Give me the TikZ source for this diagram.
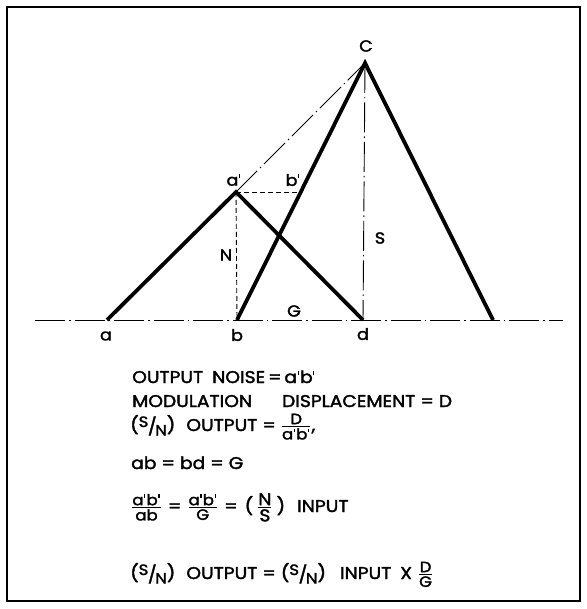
\documentclass[tikz,border=0pt]{standalone}
\usepackage{amsmath}
\usepackage{fontspec}
\setmainfont{Poppins}[FakeStretch=1.1, FakeBold=2]
\newcommand\pr{\kern0.6pt\rule[0.5em]{1.2pt}{0.22em}\kern1.2pt}
\newcommand\txtsize{\fontsize{17}{17}\selectfont}
\newcommand\frsize{\fontsize{15}{15}\selectfont}
\newcommand\SNratio{(\raisebox{4pt}{\fontsize{15}{15}\selectfont S}\kern-0.5pt\raisebox{-1.5pt}{/}\kern-1.5pt\raisebox{-4.5pt}{\fontsize{15}{15}\selectfont N})}
\newcommand\fr[2]{\ensuremath{\genfrac{}{}{1.1pt}{}{\hbox{\frsize #1}}{\hbox{\frsize #2}}}}
\newcommand\Fr[2]{\ensuremath{\genfrac{}{}{1.1pt}{}{\hbox{\txtsize #1}}{\hbox{\txtsize #2}}}}
\begin{document}
\begin{tikzpicture}[x=1pt,y=-1pt]
\tikzset{
 heavy/.style={line width=3.8pt, line join=miter},
 thinln/.style={line width=0.9pt},
 dashdot/.style={thinln, dash pattern=on 30pt off 4pt on 1.5pt off 4pt},
 shortdash/.style={thinln, dash pattern=on 5pt off 3pt},
 lab/.style={inner sep=0pt, font=\fontsize{16}{16}\selectfont},
 txt/.style={inner sep=0pt, anchor=base west, font=\txtsize},
}
\useasboundingbox (0,0) rectangle (586,609);
\draw[line width=2.5pt] (7,7) rectangle (580,601);
% points
\coordinate (L) at (35,320);
\coordinate (R) at (563,320);
\coordinate (a) at (107,320);
\coordinate (b) at (237,320);
\coordinate (d) at (363,320);
\coordinate (e) at (493,320);
\coordinate (ap) at (236,192);
\coordinate (bp) at (300,192);
\coordinate (C) at (365,63);
% construction lines
\draw[dashdot] (L) -- (R);
\draw[dashdot] (ap) -- (C);
\draw[dashdot] (C) -- (d);
\draw[shortdash] (ap) -- (b);
\draw[shortdash] (ap) -- (bp);
% heavy lines
\draw[heavy] (a) -- (ap) -- (d);
\draw[heavy] (b) -- (C) -- (e);
% labels
\node[lab] (la) at (106,336) {a};
\node[lab] (lb) at (237,335) {b};
\node[lab] (ld) at (363,334) {d};
\node[lab] (lC) at (366,46) {C};
\node[lab] (lap) at (234,180) {a\pr};
\node[lab] (lbp) at (293,180) {b\pr};
\node[lab] (lN) at (226,255) {N};
\node[lab] (lS) at (380,238) {S};
\node[lab] (lG) at (294,311) {G};
% text
\node[txt] (t1) at (132,383) {OUTPUT\hspace{9pt}NOISE\,=\,a\pr b\pr};
\node[txt] (t2) at (132,407) {MODULATION\hspace{30pt}DISPLACEMENT = D};
\node[txt] (t3) at (130,431) {\SNratio\hspace{11pt}OUTPUT = \fr{D}{a\pr b\pr},};
\node[txt] (t4) at (131,469) {ab = bd = G};
\node[txt] (t5) at (131,512) {\fr{a\pr b\pr}{ab}\hspace{6pt}=\hspace{6pt}\fr{a\pr b\pr}{G}\hspace{6pt}=\hspace{7pt}(\hspace{4pt}\Fr{N}{S}\hspace{4pt})\hspace{12pt}INPUT};
\node[txt] (t6) at (130,579) {\SNratio\hspace{11pt}OUTPUT = \SNratio\hspace{14pt}INPUT\hspace{9pt}X\hspace{6pt}\fr{D}{G}};
\end{tikzpicture}
\end{document}
